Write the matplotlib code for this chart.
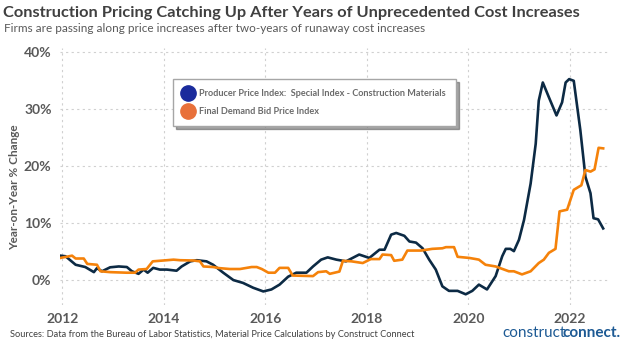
import numpy as np
import matplotlib
matplotlib.use('Agg')
from matplotlib import pyplot as plt
from matplotlib.lines import Line2D

# Producer Price Index: Special Index - Construction Materials (YoY %)
ppi_t = [2011.96, 2012.06, 2012.26, 2012.45, 2012.62, 2012.68, 2012.78, 2012.94, 2013.11,
         2013.27, 2013.37, 2013.50, 2013.60, 2013.68, 2013.79, 2013.92, 2014.06, 2014.25,
         2014.35, 2014.52, 2014.65, 2014.84, 2014.97, 2015.17, 2015.37, 2015.56, 2015.76,
         2015.96, 2016.12, 2016.28, 2016.45, 2016.61, 2016.81, 2016.94, 2017.10, 2017.23,
         2017.40, 2017.59, 2017.85, 2018.05, 2018.25, 2018.35, 2018.48, 2018.58, 2018.74,
         2018.84, 2018.97, 2019.10, 2019.23, 2019.36, 2019.49, 2019.62, 2019.79, 2019.95,
         2020.08, 2020.21, 2020.37, 2020.54, 2020.67, 2020.74, 2020.83, 2020.90, 2021.00,
         2021.10, 2021.23, 2021.33, 2021.39, 2021.47, 2021.59, 2021.74, 2021.85, 2021.92,
         2021.99, 2022.08, 2022.21, 2022.31, 2022.41, 2022.47, 2022.56, 2022.66]
ppi_v = [4.2, 4.1, 2.6, 2.2, 1.3, 2.0, 1.45, 2.15, 2.3,
         2.2, 1.45, 1.0, 1.75, 1.2, 2.05, 1.75, 1.75, 1.55,
         2.3, 3.2, 3.4, 3.2, 2.6, 1.2, -0.1, -0.6, -1.45,
         -2.1, -1.75, -0.9, 0.5, 1.2, 1.2, 2.3, 3.5, 3.9,
         3.5, 3.2, 4.4, 3.8, 5.25, 5.25, 7.9, 8.2, 7.7,
         6.7, 6.5, 5.5, 3.5, 1.75, -1.2, -2.0, -2.0, -2.6,
         -2.0, -0.9, -1.75, 0.6, 4.1, 5.4, 5.4, 5.0, 7.0,
         10.5, 16.9, 23.9, 31.5, 34.7, 32.1, 28.9, 31.2, 34.7,
         35.3, 35.0, 26.3, 18.1, 15.2, 10.8, 10.6, 9.0]

# Final Demand Bid Price Index (YoY %)
bid_t = [2011.96, 2012.19, 2012.26, 2012.42, 2012.49, 2012.68, 2012.75, 2012.94, 2013.27,
         2013.43, 2013.50, 2013.66, 2013.78, 2014.06, 2014.19, 2014.32, 2014.58, 2014.71,
         2014.78, 2014.97, 2015.10, 2015.30, 2015.50, 2015.73, 2015.83, 2015.93, 2016.06,
         2016.19, 2016.28, 2016.45, 2016.54, 2016.94, 2017.04, 2017.20, 2017.27, 2017.46,
         2017.53, 2017.70, 2017.92, 2018.08, 2018.25, 2018.31, 2018.48, 2018.54, 2018.70,
         2018.80, 2019.07, 2019.29, 2019.49, 2019.56, 2019.72, 2019.79, 2020.02, 2020.15,
         2020.21, 2020.34, 2020.54, 2020.80, 2020.90, 2021.06, 2021.23, 2021.39, 2021.49,
         2021.59, 2021.72, 2021.80, 2021.95, 2022.08, 2022.23, 2022.31, 2022.41, 2022.49,
         2022.57, 2022.66]
bid_v = [3.8, 4.2, 3.7, 3.7, 2.75, 2.6, 1.45, 1.3, 1.2,
         1.2, 1.75, 1.85, 3.2, 3.4, 3.5, 3.4, 3.35, 3.2,
         2.3, 2.2, 2.0, 1.85, 1.85, 2.2, 2.2, 1.85, 1.2,
         1.2, 2.05, 2.05, 0.7, 0.6, 1.3, 1.45, 1.0, 1.4,
         3.3, 3.2, 2.9, 3.6, 3.6, 4.4, 4.3, 3.3, 3.5,
         5.1, 5.1, 5.4, 5.5, 5.7, 5.7, 4.0, 3.8, 3.6,
         3.5, 2.6, 2.3, 1.45, 1.45, 0.9, 1.45, 2.9, 3.5,
         4.7, 5.4, 12.0, 12.3, 15.8, 16.6, 19.3, 19.0, 19.4,
         23.2, 23.1]

years = [2012, 2014, 2016, 2018, 2020, 2022]
yticks = [0, 10, 20, 30, 40]
labels = ['Producer Price Index:  Special Index - Construction Materials',
          'Final Demand Bid Price Index']

FONT = 'Lato'
GRAY = '#595959'

fig = plt.figure(figsize=(6.24, 3.42), dpi=100)
ax = fig.add_axes([0.096, 0.108, 0.882, 0.752])

ax.plot(ppi_t, ppi_v, color='#0c2a44', lw=1.9, zorder=3)
ax.plot(bid_t, bid_v, color='#f5820a', lw=1.9, zorder=3)

ax.set_xlim(2011.95, 2022.8)
ax.set_ylim(-4.5, 40.8)
ax.set_xticks(years)
ax.set_xticklabels([str(y) for y in years], fontfamily=FONT, fontweight='bold',
                   fontsize=10, color=GRAY)
ax.set_yticks(yticks)
ax.set_yticklabels(['{}%'.format(v) for v in yticks], fontfamily=FONT, fontweight='bold',
                   fontsize=10, color=GRAY)
ax.tick_params(length=0, pad=6)
ax.grid(True, color='#d0d0d0', linestyle=(0, (2, 3)), lw=0.8)
for s in ax.spines.values():
    s.set_visible(False)
ax.set_ylabel('Year-on-Year % Change', fontfamily=FONT, fontweight='bold',
              fontsize=8.5, color=GRAY, labelpad=6)
ax.yaxis.set_label_coords(-0.072, 0.46)

handles = [Line2D([], [], ls='none', marker='o', ms=11, color='#1a2b9c'),
           Line2D([], [], ls='none', marker='o', ms=11, color='#e8703a')]
leg = ax.legend(handles, labels, loc='upper left', bbox_to_anchor=(0.277, 0.769),
                bbox_transform=fig.transFigure, frameon=True, shadow=True,
                fancybox=False, handlelength=1.0, handletextpad=0.8, borderpad=1.1,
                labelspacing=1.0, borderaxespad=0,
                prop={'family': FONT, 'weight': 'bold', 'size': 6.6})
leg.get_frame().set_edgecolor('#a6a6a6')
for t in leg.get_texts():
    t.set_color('#6b6b6b')

fig.text(0.005, 0.962, 'Construction Pricing Catching Up After Years of Unprecedented Cost Increases',
         fontfamily=FONT, fontweight='bold', fontsize=11.8, color='#404040', va='center')
fig.text(0.006, 0.918, 'Firms are passing along price increases after two-years of runaway cost increases',
         fontfamily=FONT, fontsize=8.5, color='#595959', va='center')
fig.text(0.016, 0.022, 'Sources: Data from the Bureau of Labor Statistics, Material Price Calculations by Construct Connect',
         fontfamily=FONT, fontsize=6.7, color='#404040', va='center')
fig.text(0.805, 0.026, 'construct', fontfamily=FONT, fontsize=11, color='#1d5a94', va='center')
fig.text(0.995, 0.026, 'connect.', fontfamily=FONT, fontweight='bold', fontsize=11,
         color='#1d5a94', va='center', ha='right')

fig.savefig('out.png', dpi=100)
